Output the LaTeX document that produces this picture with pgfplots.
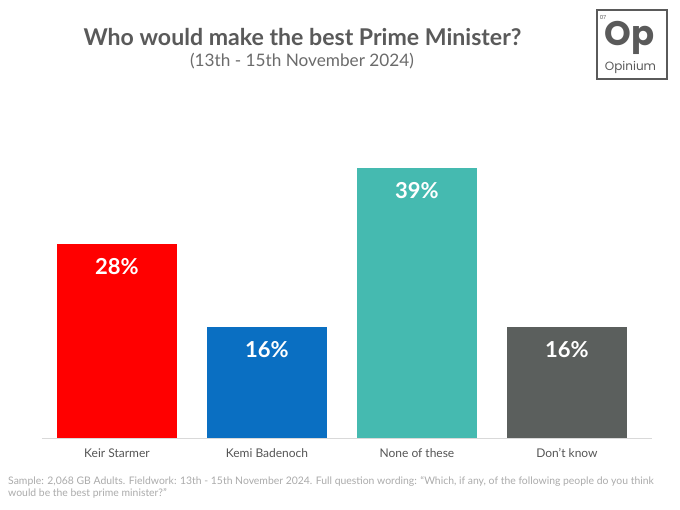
\documentclass[border=0pt]{standalone}
\usepackage{pgfplots}
\pgfplotsset{compat=1.18}
\usepackage{fontspec}
\setmainfont{Lato}
\newfontfamily\logofont{Poppins}
\definecolor{cred}{HTML}{FF0000}
\definecolor{cblue}{HTML}{0A6FC2}
\definecolor{cteal}{HTML}{45BAB0}
\definecolor{cgray}{HTML}{5B5F5D}
\definecolor{titlegray}{HTML}{5A5A5A}
\definecolor{labgray}{HTML}{555555}
\definecolor{footgray}{HTML}{ABABAB}
\begin{document}
\begin{tikzpicture}[x=1pt,y=1pt]
\path[use as bounding box, fill=white] (0,0) rectangle (680,510);
\begin{axis}[
  at={(42pt,72pt)}, anchor=south west,
  scale only axis, width=610pt, height=276.8pt,
  xmin=-0.5, xmax=3.567, ymin=0, ymax=40,
  axis x line=bottom, axis y line=none,
  x axis line style={color=black!15, line width=0.8pt, -},
  ytick=\empty,
  xtick={0,1,2,3},
  xticklabels={Keir Starmer,Kemi Badenoch,None of these,Don't know},
  major tick length=0pt,
  xticklabel style={text=labgray, font=\fontsize{12}{14}\selectfont, yshift=-7pt},
  /pgf/number format/assume math mode=true,
  clip=false,
  ybar, bar width=120pt, bar shift=0pt,
  nodes near coords={\pgfmathprintnumber{\pgfplotspointmeta}\%},
  every node near coord/.append style={anchor=north, yshift=-11pt, text=white, font=\bfseries\fontsize{22}{26}\selectfont},
]
\addplot[draw=none, fill=cred] coordinates {(0,28)};
\addplot[draw=none, fill=cblue] coordinates {(1,16)};
\addplot[draw=none, fill=cteal] coordinates {(2,39)};
\addplot[draw=none, fill=cgray] coordinates {(3,16)};
\end{axis}
\node[text=titlegray, font=\bfseries\fontsize{23.1}{27}\selectfont] at (302.5,473) {Who would make the best Prime Minister?};
\node[text=titlegray!90, font=\fontsize{17.2}{20}\selectfont] at (302,449) {(13th - 15th November 2024)};
\node[text=footgray, font=\fontsize{10.4}{12}\selectfont, anchor=north west, align=left, inner sep=0pt] at (8,34) {Sample: 2,068 GB Adults. Fieldwork: 13th - 15th November 2024. Full question wording: ``Which, if any, of the following people do you think\\would be the best prime minister?''};
% logo
\draw[color=titlegray, line width=1.3pt] (597,431) rectangle (667,500);
\node[text=titlegray, font=\logofont\fontsize{5.5}{6}\selectfont, inner sep=0pt] at (603,493) {07};
\node[text=titlegray, font=\logofont\bfseries\fontsize{34}{38}\selectfont, inner sep=0pt, anchor=base] at (629.5,464) {Op};
\node[text=titlegray, font=\logofont\fontsize{12}{13}\selectfont, inner sep=0pt, anchor=base] at (630.5,439) {Opinium};
\end{tikzpicture}
\end{document}
